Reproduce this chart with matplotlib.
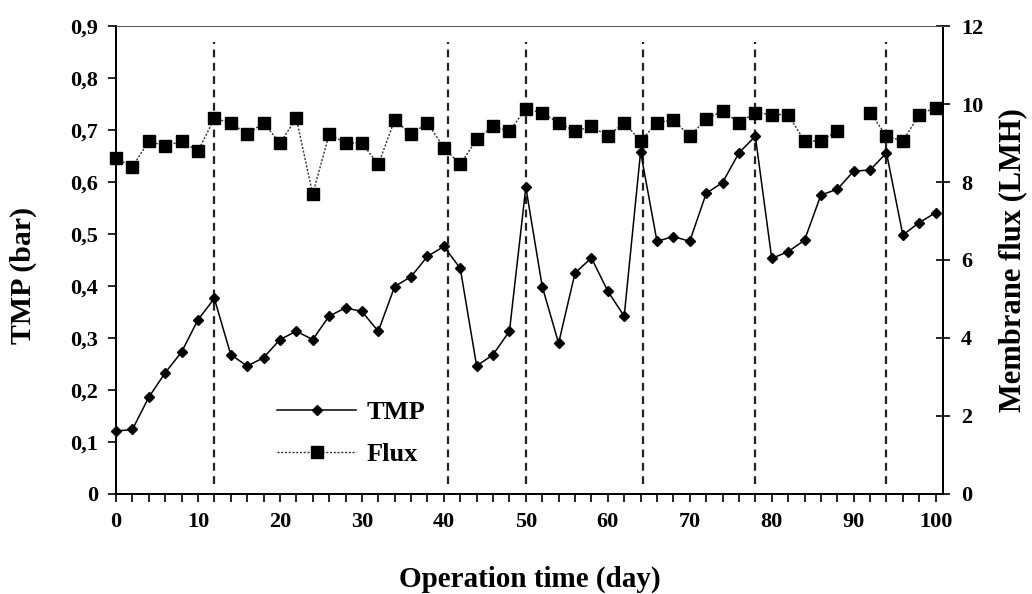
import matplotlib
matplotlib.use("Agg")
import matplotlib.pyplot as plt
from matplotlib.ticker import MultipleLocator, FixedLocator
import numpy as np

plt.rcParams['font.family'] = ['Liberation Serif', 'DejaVu Serif']
plt.rcParams['font.weight'] = 'bold'

# operation days (sampled every 2 days)
days = list(range(0, 101, 2))

tmp_bar = [0.121, 0.124, 0.186, 0.233, 0.273, 0.335, 0.376, 0.268, 0.246, 0.262,
           0.297, 0.313, 0.297, 0.342, 0.358, 0.351, 0.313, 0.399, 0.418, 0.457,
           0.476, 0.434, 0.246, 0.268, 0.313, 0.590, 0.399, 0.290, 0.425, 0.454,
           0.390, 0.342, 0.658, 0.486, 0.495, 0.486, 0.578, 0.599, 0.656, 0.688,
           0.453, 0.466, 0.488, 0.575, 0.586, 0.621, 0.623, 0.656, 0.498, 0.522,
           0.541]

flux_lmh = [8.61, 8.39, 9.05, 8.92, 9.05, 8.79, 9.63, 9.52, 9.22, 9.52,
            9.00, 9.63, 7.69, 9.22, 9.00, 9.00, 8.45, 9.59, 9.22, 9.52,
            8.88, 8.45, 9.09, 9.43, 9.30, 9.88, 9.77, 9.52, 9.30, 9.43,
            9.18, 9.52, 9.05, 9.52, 9.59, 9.18, 9.61, 9.82, 9.52, 9.78,
            9.73, 9.73, 9.05, 9.05, 9.31, np.nan, 9.78, 9.18, 9.05, 9.73,
            9.91]

# days where the membrane was cleaned
cleaning_days = [12, 40.5, 50, 64.3, 78, 94]

tmp_ticks = [0, 0.1, 0.2, 0.3, 0.4, 0.5, 0.6, 0.7, 0.8, 0.9]
tmp_ticklabels = ['0', '0,1', '0,2', '0,3', '0,4', '0,5', '0,6', '0,7', '0,8', '0,9']
flux_ticks = [0, 2, 4, 6, 8, 10, 12]

fig = plt.figure(figsize=(10.32, 5.94), dpi=100)
ax = fig.add_axes([0.1124, 0.1684, 0.8014, 0.7878])
ax2 = ax.twinx()

for d in cleaning_days:
    ax.plot([d, d], [0.02, 0.87], color='#222222', lw=1.6,
            linestyle=(0, (3.5, 2.5)), zorder=1)

ax.plot(days, tmp_bar, color='black', lw=1.1, marker='D', markersize=5.5,
        label='TMP', zorder=3, clip_on=False)
ax2.plot(days, flux_lmh, color='#333333', lw=1.0, linestyle=(0, (1.5, 1.2)),
         marker='s', markersize=8.5, markerfacecolor='black',
         markeredgecolor='black', label='Flux', zorder=3, clip_on=False)

ax.set_xlim(0, 100.9)
ax.set_ylim(0, 0.9)
ax2.set_ylim(0, 12)

ax.xaxis.set_major_locator(MultipleLocator(10))
ax.xaxis.set_minor_locator(MultipleLocator(2))
ax.yaxis.set_major_locator(FixedLocator(tmp_ticks))
ax.set_yticklabels(tmp_ticklabels)
ax2.set_yticks(flux_ticks)

ax.tick_params(axis='x', which='both', direction='out', length=6, width=1.2,
               labelsize=16, pad=7)
ax.tick_params(axis='y', direction='out', length=6, width=1.2, labelsize=16, pad=7)
ax2.tick_params(axis='y', direction='inout', length=10, width=1.2, labelsize=16, pad=8)

for lab in ax.get_xticklabels() + ax.get_yticklabels() + ax2.get_yticklabels():
    lab.set_fontweight('bold')

for a in (ax, ax2):
    a.spines['left'].set_linewidth(1.4)
    a.spines['bottom'].set_linewidth(1.4)
    a.spines['right'].set_linewidth(1.4)
    a.spines['top'].set_linewidth(0.6)
    a.spines['top'].set_color('#555555')

ax.set_xlabel('Operation time (day)', fontsize=21, fontweight='bold', labelpad=24)
ax.set_ylabel('TMP (bar)', fontsize=21.5, fontweight='bold')
ax.yaxis.set_label_coords(-0.096, 0.468)
ax2.set_ylabel('Membrane flux (LMH)', fontsize=22, fontweight='bold', labelpad=11)

h1, l1 = ax.get_legend_handles_labels()
h2, l2 = ax2.get_legend_handles_labels()
ax.legend(h1 + h2, l1 + l2, loc='upper left', bbox_to_anchor=(0.195, 0.2),
          frameon=False, handlelength=3.0, handletextpad=0.4, labelspacing=0.7,
          borderpad=0, borderaxespad=0,
          prop={'size': 19, 'weight': 'bold'})

plt.savefig('out.png', dpi=100)
